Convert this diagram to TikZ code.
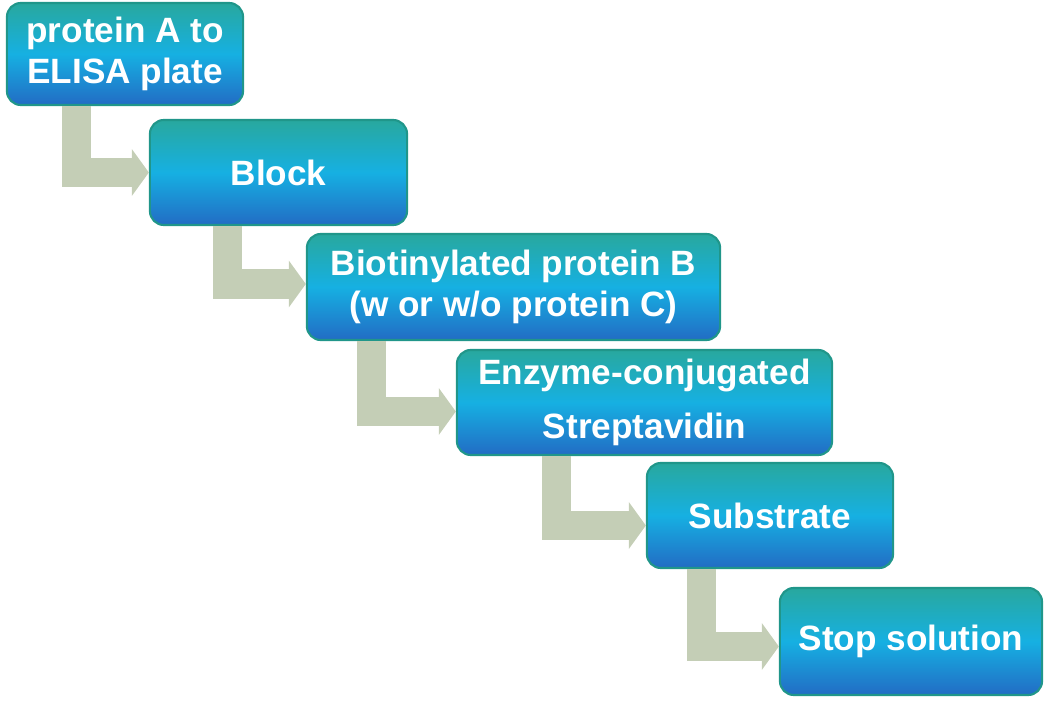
\documentclass[tikz,border=0pt]{standalone}
\usepackage{fontspec}
\setmainfont{Liberation Sans}
\usetikzlibrary{positioning,arrows.meta}
\definecolor{boxtop}{RGB}{40,168,158}
\definecolor{boxmid}{RGB}{22,176,226}
\definecolor{boxbot}{RGB}{34,108,196}
\definecolor{boxrim}{RGB}{32,150,138}
\definecolor{sage}{RGB}{196,206,182}
\tikzset{
	stepbox/.style={draw=boxrim, line width=0.6pt, rounded corners=0.14cm,
		top color=boxtop, bottom color=boxbot, middle color=boxmid,
		text=white, font=\bfseries\fontsize{10}{11.5}\selectfont, align=center,
		minimum height=1.05cm, inner sep=0pt},
	flow/.style={draw=sage, line width=0.29cm,
		-{Triangle[length=0.17cm,width=0.46cm]}}
}

\begin{document}
\begin{tikzpicture}[x=0.01cm,y=-0.01cm]
	\useasboundingbox (0,0) rectangle (1050,712);
	% steps of the assay
	\node[stepbox, minimum width=2.36cm, minimum height=1.02cm] (coat) at (125,54) {protein A to\\ELISA plate};
	\node[stepbox, minimum width=2.57cm] (block) at (278.5,172.5) {Block};
	\node[stepbox, minimum width=4.13cm, minimum height=1.06cm] (bind) at (513.5,287) {Biotinylated protein B\\(w or w/o protein C)};
	\node[stepbox, minimum width=3.75cm] (enzyme) at (644.5,402.5) {Enzyme-conjugated\\[4pt]Streptavidin};
	\node[stepbox, minimum width=2.46cm] (subst) at (770,515.5) {Substrate};
	\node[stepbox, minimum width=2.62cm, minimum height=1.07cm] (stop) at (911,641.5) {Stop solution};
	
	% bent arrows
	\draw[flow] ([xshift=0.71cm]coat.south west) |- (block.west);
	\draw[flow] ([xshift=0.79cm]block.south west) |- ([yshift=0.03cm]bind.west);
	\draw[flow] ([xshift=0.66cm]bind.south west) |- ([yshift=-0.09cm]enzyme.west);
	\draw[flow] ([xshift=1.01cm]enzyme.south west) |- ([yshift=-0.1cm]subst.west);
	\draw[flow] ([xshift=0.56cm]subst.south west) |- ([yshift=-0.05cm]stop.west);
\end{tikzpicture}
\end{document}
